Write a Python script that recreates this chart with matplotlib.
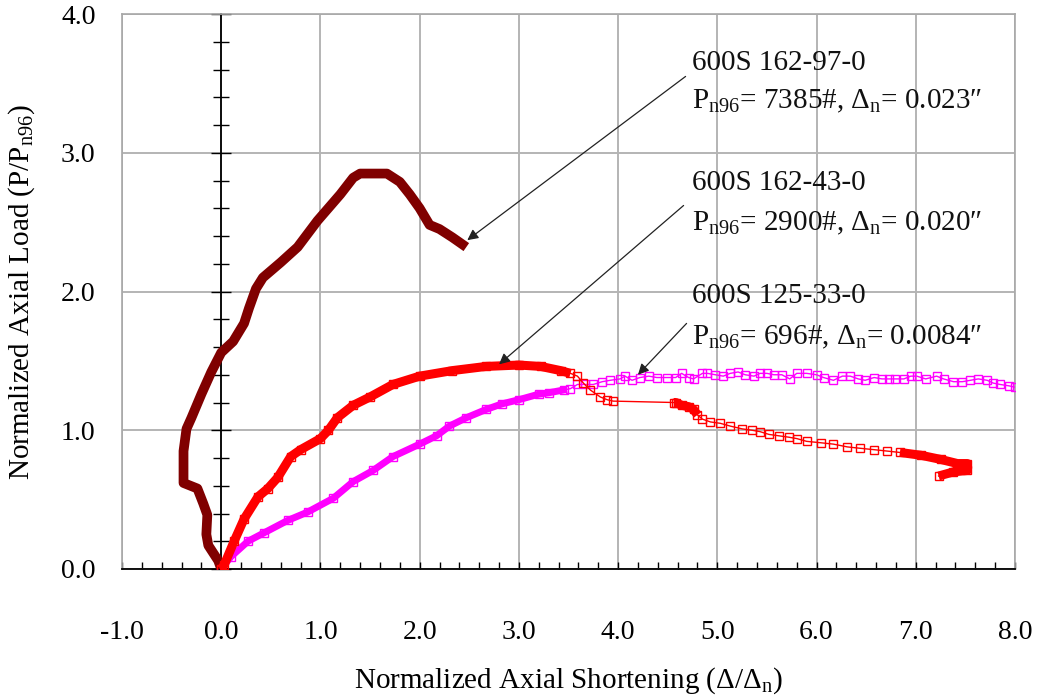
import matplotlib
matplotlib.use("Agg")
import matplotlib.pyplot as plt
from matplotlib.ticker import MultipleLocator, FormatStrFormatter

plt.rcParams["font.family"] = ["Liberation Serif", "DejaVu Serif"]
plt.rcParams["mathtext.fontset"] = "custom"
plt.rcParams["mathtext.rm"] = "Liberation Serif"
plt.rcParams["mathtext.it"] = "Liberation Serif:italic"

# 600S 162-97-0
s97_x = [0.00, -0.03, -0.13, -0.15, -0.14, -0.18, -0.24, -0.38, -0.38, -0.35, -0.30,
         -0.20, -0.10, 0.00, 0.12, 0.23, 0.28, 0.35, 0.42, 0.60, 0.77, 0.97, 1.20,
         1.33, 1.40, 1.67, 1.80, 1.90, 2.00, 2.10, 2.20, 2.33, 2.47]
s97_y = [0.00, 0.06, 0.17, 0.25, 0.39, 0.47, 0.58, 0.62, 0.85, 1.01, 1.09,
         1.26, 1.42, 1.56, 1.64, 1.77, 1.88, 2.02, 2.10, 2.21, 2.32, 2.51, 2.70,
         2.82, 2.85, 2.85, 2.79, 2.70, 2.60, 2.48, 2.45, 2.39, 2.32]

# 600S 162-43-0
s43_x = [0.00, 0.03, 0.13, 0.23, 0.37, 0.47, 0.57, 0.70, 0.80, 1.00, 1.08, 1.17,
         1.33, 1.50, 1.73, 2.00, 2.33, 2.67, 3.00, 3.22, 3.42, 3.52,
         3.59, 3.65, 3.72, 3.82, 3.89, 3.95,
         4.56, 4.58, 4.64, 4.71, 4.76, 4.80, 4.85, 4.93, 5.03, 5.13, 5.25, 5.35,
         5.43, 5.52, 5.62, 5.72, 5.80, 5.90, 6.04, 6.17, 6.31, 6.44, 6.58, 6.71,
         6.84, 7.05, 7.25, 7.42, 7.52, 7.52, 7.38, 7.23]
s43_y = [0.00, 0.03, 0.20, 0.36, 0.52, 0.58, 0.66, 0.81, 0.86, 0.94, 1.00, 1.09,
         1.18, 1.24, 1.33, 1.39, 1.43, 1.46, 1.47, 1.46, 1.43, 1.41,
         1.39, 1.34, 1.29, 1.24, 1.22, 1.21,
         1.20, 1.20, 1.18, 1.17, 1.15, 1.11, 1.08, 1.06, 1.05, 1.03, 1.01, 1.00,
         0.99, 0.97, 0.96, 0.95, 0.94, 0.92, 0.91, 0.90, 0.88, 0.87, 0.86, 0.85,
         0.84, 0.82, 0.79, 0.76, 0.76, 0.71, 0.70, 0.67]

# 600S 125-33-0
s33_x = [0.00, 0.10, 0.27, 0.43, 0.67, 0.87, 1.13, 1.33, 1.53, 1.73, 2.00, 2.17,
         2.30, 2.47, 2.67, 2.83, 3.00, 3.20, 3.30, 3.45, 3.52, 3.59, 3.67, 3.75,
         3.84, 3.92, 4.02, 4.07, 4.14, 4.22, 4.31, 4.39, 4.49, 4.58, 4.64, 4.71,
         4.76, 4.85, 4.90, 4.98, 5.06, 5.13, 5.21, 5.28, 5.37, 5.43, 5.50, 5.57,
         5.65, 5.73, 5.80, 5.90, 6.00, 6.07, 6.17, 6.26, 6.34, 6.42, 6.49, 6.58,
         6.66, 6.73, 6.79, 6.88, 6.95, 7.01, 7.10, 7.21, 7.28, 7.38, 7.47, 7.55,
         7.63, 7.72, 7.78, 7.85, 7.94, 8.00]
s33_y = [0.00, 0.09, 0.20, 0.26, 0.35, 0.41, 0.51, 0.63, 0.71, 0.81, 0.90, 0.96,
         1.03, 1.09, 1.15, 1.19, 1.22, 1.26, 1.27, 1.29, 1.30, 1.33, 1.33, 1.33,
         1.35, 1.36, 1.37, 1.39, 1.36, 1.38, 1.39, 1.38, 1.38, 1.38, 1.41, 1.38,
         1.37, 1.41, 1.41, 1.40, 1.39, 1.41, 1.42, 1.40, 1.39, 1.41, 1.41, 1.40,
         1.40, 1.37, 1.41, 1.41, 1.40, 1.38, 1.36, 1.39, 1.39, 1.37, 1.36, 1.38,
         1.37, 1.37, 1.37, 1.37, 1.39, 1.39, 1.37, 1.39, 1.37, 1.35, 1.35, 1.36,
         1.37, 1.36, 1.34, 1.33, 1.32, 1.31]

x_ticks = [-1.0, 0.0, 1.0, 2.0, 3.0, 4.0, 5.0, 6.0, 7.0, 8.0]
y_ticks = [0.0, 1.0, 2.0, 3.0, 4.0]

labels = [
    ("600S 162-97-0", r"P$_{\mathrm{n96}}$= 7385#, Δ$_{\mathrm{n}}$= 0.023″"),
    ("600S 162-43-0", r"P$_{\mathrm{n96}}$= 2900#, Δ$_{\mathrm{n}}$= 0.020″"),
    ("600S 125-33-0", r"P$_{\mathrm{n96}}$= 696#, Δ$_{\mathrm{n}}$= 0.0084″"),
]
label_y = [(3.65, 3.37), (2.78, 2.49), (1.97, 1.67)]
arrow_from = [(4.68, 3.55), (4.66, 2.62), (4.69, 1.77)]
arrow_to = [(2.48, 2.37), (2.80, 1.475), (4.20, 1.40)]

DARK = "#800000"
RED = "#ff0000"
MAG = "#ff00ff"

fig = plt.figure(figsize=(10.37, 7.0), dpi=100)
ax = fig.add_axes([122 / 1037, 1 - 569 / 700, 893 / 1037, 555 / 700])
ax.set_xlim(-1, 8)
ax.set_ylim(0, 4)

# curves
ax.plot(s97_x, s97_y, color=DARK, lw=7, solid_joinstyle="round",
        solid_capstyle="butt", zorder=4)

mk = dict(marker="s", ms=5.2, mfc="none", mew=1.0)
ax.plot(s33_x, s33_y, color=MAG, lw=1.0, zorder=3, **mk)
ax.plot(s33_x[:20], s33_y[:20], color=MAG, lw=5.0, solid_joinstyle="round",
        zorder=3)

ax.plot(s43_x, s43_y, color=RED, lw=1.0, zorder=5, **mk)
for a, b in [(0, 22), (28, 34), (52, 60)]:
    ax.plot(s43_x[a:b], s43_y[a:b], color=RED, lw=6.5,
            solid_joinstyle="round", solid_capstyle="butt", zorder=5)

# grid and frame
ax.set_xticks(x_ticks)
ax.set_yticks(y_ticks)
ax.xaxis.set_major_formatter(FormatStrFormatter("%.1f"))
ax.yaxis.set_major_formatter(FormatStrFormatter("%.1f"))
ax.xaxis.set_minor_locator(MultipleLocator(0.2))
ax.grid(True, which="major", color="#b4b4b4", lw=1.4, zorder=0)
ax.set_axisbelow(True)
for side in ("top", "right", "left"):
    ax.spines[side].set_color("#a8a8a8")
    ax.spines[side].set_linewidth(1.2)
ax.spines["bottom"].set_color("black")
ax.spines["bottom"].set_linewidth(1.3)

ax.tick_params(axis="x", which="both", direction="in", length=5, width=1.0,
               color="black", pad=37, labelsize=20)
ax.tick_params(axis="y", which="both", length=0, pad=19, labelsize=20)

# vertical axis through zero shortening
sec = ax.secondary_yaxis(1 / 9)
sec.set_yticks(y_ticks)
sec.yaxis.set_minor_locator(MultipleLocator(0.2))
sec.tick_params(which="major", direction="inout", length=14, width=1.0,
                labelleft=False, labelright=False)
sec.tick_params(which="minor", direction="inout", length=12, width=1.0)
sec.spines["left"].set_color("black")
sec.spines["left"].set_linewidth(1.3)
sec.set_zorder(2)

# annotations
for (t1, t2), (y1, y2), p0, p1 in zip(labels, label_y, arrow_from, arrow_to):
    ax.text(4.74, y1, t1, fontsize=21, va="center", ha="left", color="#111111", zorder=6)
    ax.text(4.74, y2, t2, fontsize=21, va="center", ha="left", color="#111111", zorder=6)
    ax.annotate("", xy=p1, xytext=p0,
                arrowprops=dict(arrowstyle="-|>", color="#222222", lw=0.9,
                                mutation_scale=16, shrinkA=0, shrinkB=0),
                zorder=6)

ax.set_xlabel(r"Normalized Axial Shortening (Δ/Δ$_{\mathrm{n}}$)", fontsize=21)
ax.set_ylabel(r"Normalized Axial Load (P/P$_{\mathrm{n96}}$)", fontsize=21)
ax.xaxis.set_label_coords(0.5, (569 - 681) / 555)
ax.xaxis.label.set_va("center")
ax.yaxis.set_label_coords((22 - 122) / 893, 0.5)
ax.yaxis.label.set_va("center")

fig.savefig("out.png", dpi=100)
